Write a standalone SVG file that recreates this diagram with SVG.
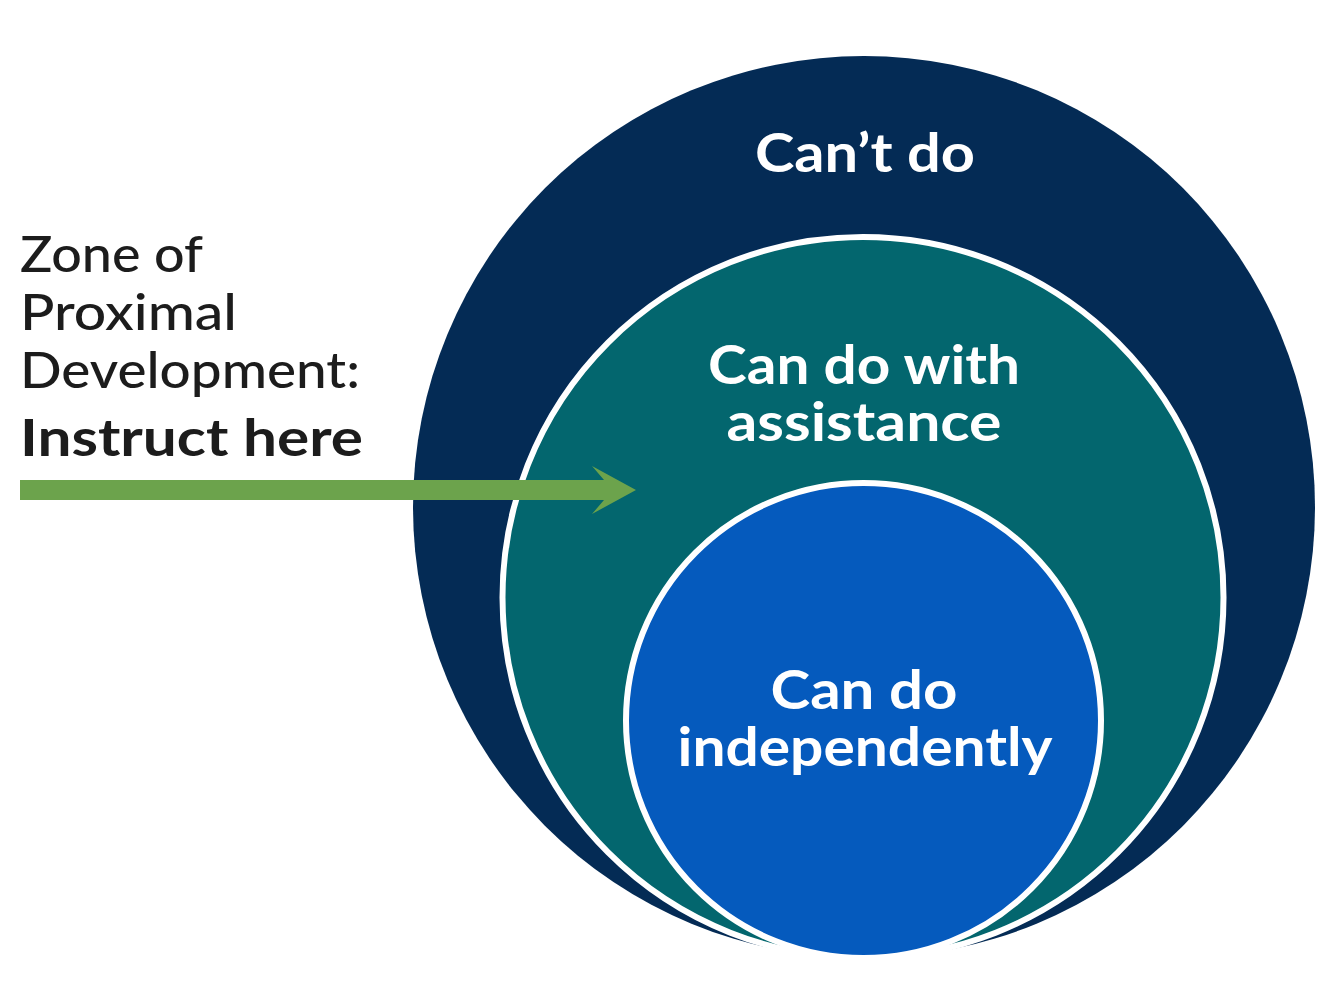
<svg xmlns="http://www.w3.org/2000/svg" width="1341" height="993" viewBox="0 0 1341 993">
  <style>
    .ring { stroke: #ffffff; stroke-width: 6; }
    .lbl { font-family: Lato, "Open Sans", "Liberation Sans", sans-serif; fill: #ffffff; text-anchor: middle; font-weight: 700; font-size: 54px; }
    .side { font-family: Lato, "Open Sans", "Liberation Sans", sans-serif; fill: #1c1c1c; font-size: 51px; font-weight: 500; }
    .strong { font-weight: 700; }
  </style>
  <rect width="1341" height="993" fill="#ffffff"/>
  <g id="cant-do">
    <circle cx="864" cy="507" r="451" fill="#042b55"/>
    <text class="lbl" x="865" y="172" textLength="220" lengthAdjust="spacingAndGlyphs">Can’t do</text>
  </g>
  <g id="with-assistance">
    <circle class="ring" cx="863" cy="597.5" r="360.5" fill="#03666e"/>
    <text class="lbl" x="864" y="384" textLength="312" lengthAdjust="spacingAndGlyphs">Can do with</text>
    <text class="lbl" x="864" y="441" textLength="275" lengthAdjust="spacingAndGlyphs">assistance</text>
  </g>
  <g id="independently">
    <circle class="ring" cx="863.5" cy="720.5" r="237.5" fill="#055abd"/>
    <text class="lbl" x="864" y="709" textLength="187" lengthAdjust="spacingAndGlyphs">Can do</text>
    <text class="lbl" x="865" y="766" textLength="375" lengthAdjust="spacingAndGlyphs">independently</text>
  </g>
  <g id="zpd-label">
    <text class="side" x="20" y="272" textLength="183" lengthAdjust="spacingAndGlyphs">Zone of</text>
    <text class="side" x="20" y="330" textLength="217" lengthAdjust="spacingAndGlyphs">Proximal</text>
    <text class="side" x="20" y="388" textLength="340" lengthAdjust="spacingAndGlyphs">Development:</text>
    <text class="side strong" x="20" y="456" textLength="343" lengthAdjust="spacingAndGlyphs">Instruct here</text>
  </g>
  <g id="connectors">
    <polygon points="20,480 604,480 592,466 636,490 592,514 604,500 20,500" fill="#6ca34c"/>
  </g>
</svg>
